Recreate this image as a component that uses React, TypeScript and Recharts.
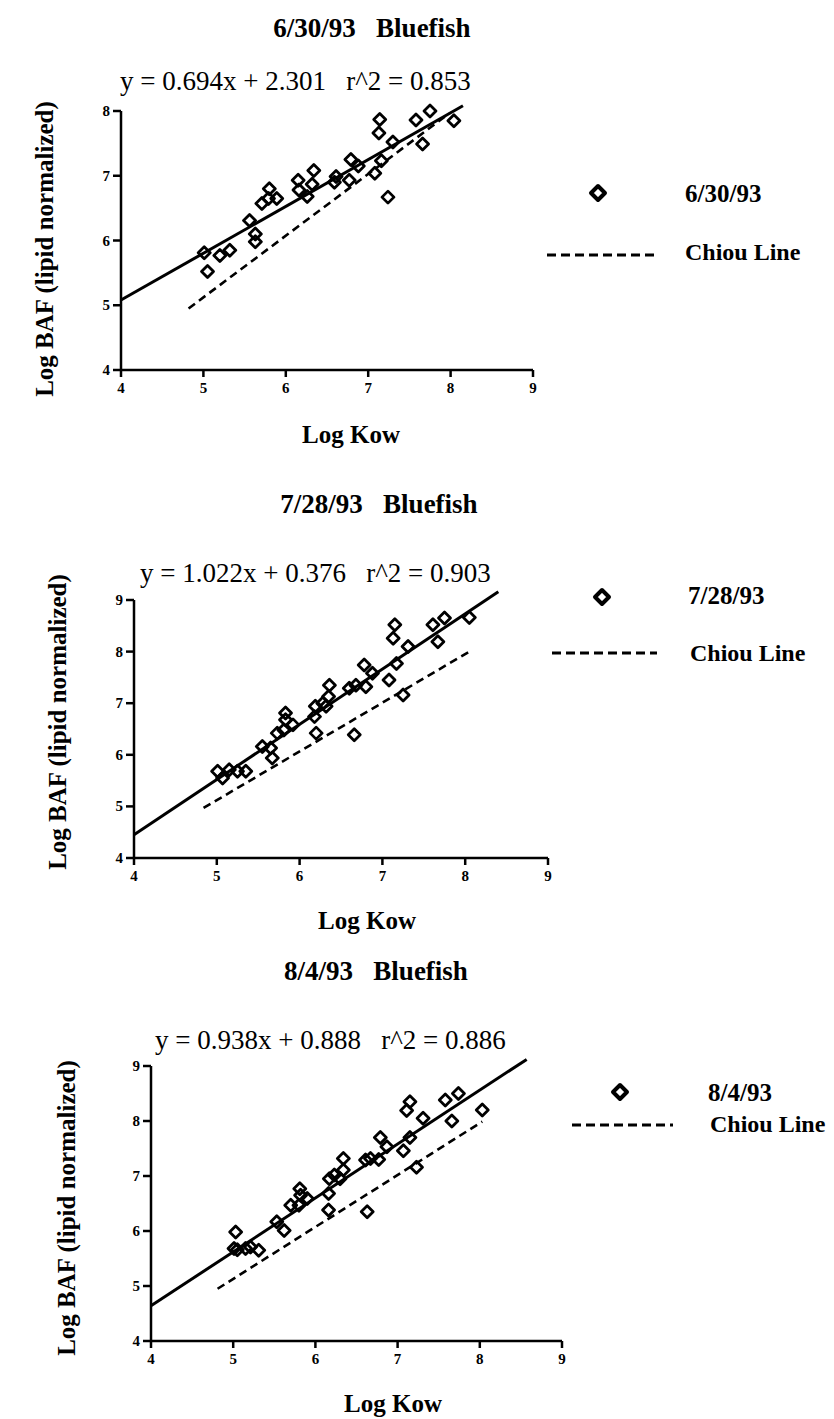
import { ReferenceLine, Scatter, ScatterChart, XAxis, YAxis } from 'recharts';

type Pt = { x: number; y: number };

const kowTicks = [4, 5, 6, 7, 8, 9];
const bafTicksJune = [4, 5, 6, 7, 8];
const bafTicks = [4, 5, 6, 7, 8, 9];

// 6/30/93
const june30Points: Pt[] = [
  { x: 5.01, y: 5.81 }, { x: 5.05, y: 5.52 }, { x: 5.2, y: 5.77 }, { x: 5.32, y: 5.85 },
  { x: 5.56, y: 6.31 }, { x: 5.63, y: 6.1 }, { x: 5.63, y: 5.98 }, { x: 5.71, y: 6.57 },
  { x: 5.79, y: 6.65 }, { x: 5.8, y: 6.8 }, { x: 5.89, y: 6.65 }, { x: 6.15, y: 6.93 },
  { x: 6.16, y: 6.78 }, { x: 6.26, y: 6.68 }, { x: 6.34, y: 7.08 }, { x: 6.32, y: 6.87 },
  { x: 6.61, y: 6.99 }, { x: 6.59, y: 6.9 }, { x: 6.77, y: 6.93 }, { x: 6.79, y: 7.25 },
  { x: 6.88, y: 7.15 }, { x: 7.08, y: 7.04 }, { x: 7.14, y: 7.87 }, { x: 7.13, y: 7.66 },
  { x: 7.16, y: 7.23 }, { x: 7.24, y: 6.67 }, { x: 7.3, y: 7.52 }, { x: 7.58, y: 7.86 },
  { x: 7.66, y: 7.49 }, { x: 7.75, y: 8.0 }, { x: 8.04, y: 7.85 },
];
const june30Fit: Pt[] = [{ x: 4, y: 5.08 }, { x: 8.15, y: 8.08 }];
const june30Chiou: Pt[] = [{ x: 4.82, y: 4.95 }, { x: 7.98, y: 7.96 }];

// 7/28/93
const july28Points: Pt[] = [
  { x: 5.01, y: 5.68 }, { x: 5.07, y: 5.55 }, { x: 5.15, y: 5.71 }, { x: 5.25, y: 5.68 },
  { x: 5.35, y: 5.68 }, { x: 5.55, y: 6.16 }, { x: 5.65, y: 6.13 }, { x: 5.67, y: 5.94 },
  { x: 5.73, y: 6.42 }, { x: 5.81, y: 6.48 }, { x: 5.83, y: 6.81 }, { x: 5.83, y: 6.68 },
  { x: 5.92, y: 6.58 }, { x: 6.18, y: 6.74 }, { x: 6.19, y: 6.94 }, { x: 6.2, y: 6.42 },
  { x: 6.28, y: 7.0 }, { x: 6.32, y: 6.94 }, { x: 6.35, y: 7.13 }, { x: 6.36, y: 7.35 },
  { x: 6.6, y: 7.29 }, { x: 6.66, y: 6.39 }, { x: 6.68, y: 7.35 }, { x: 6.78, y: 7.74 },
  { x: 6.8, y: 7.32 }, { x: 6.88, y: 7.58 }, { x: 7.08, y: 7.45 }, { x: 7.15, y: 8.52 },
  { x: 7.13, y: 8.26 }, { x: 7.17, y: 7.77 }, { x: 7.25, y: 7.16 }, { x: 7.31, y: 8.1 },
  { x: 7.61, y: 8.52 }, { x: 7.67, y: 8.19 }, { x: 7.75, y: 8.65 }, { x: 8.05, y: 8.66 },
];
const july28Fit: Pt[] = [{ x: 4, y: 4.45 }, { x: 8.4, y: 9.16 }];
const july28Chiou: Pt[] = [{ x: 4.84, y: 4.97 }, { x: 8.05, y: 8.0 }];

// 8/4/93
const aug4Points: Pt[] = [
  { x: 5.03, y: 5.98 }, { x: 5.01, y: 5.68 }, { x: 5.05, y: 5.66 }, { x: 5.15, y: 5.68 },
  { x: 5.21, y: 5.71 }, { x: 5.31, y: 5.65 }, { x: 5.53, y: 6.17 }, { x: 5.62, y: 6.01 },
  { x: 5.7, y: 6.47 }, { x: 5.8, y: 6.47 }, { x: 5.81, y: 6.77 }, { x: 5.82, y: 6.65 },
  { x: 5.9, y: 6.59 }, { x: 6.16, y: 6.68 }, { x: 6.16, y: 6.38 }, { x: 6.17, y: 6.95 },
  { x: 6.23, y: 7.02 }, { x: 6.3, y: 6.95 }, { x: 6.34, y: 7.11 }, { x: 6.34, y: 7.32 },
  { x: 6.61, y: 7.29 }, { x: 6.63, y: 6.35 }, { x: 6.67, y: 7.32 }, { x: 6.77, y: 7.3 },
  { x: 6.79, y: 7.7 }, { x: 6.87, y: 7.53 }, { x: 7.07, y: 7.46 }, { x: 7.11, y: 8.19 },
  { x: 7.15, y: 8.35 }, { x: 7.15, y: 7.7 }, { x: 7.23, y: 7.16 }, { x: 7.31, y: 8.05 },
  { x: 7.58, y: 8.38 }, { x: 7.66, y: 8.0 }, { x: 7.74, y: 8.5 }, { x: 8.03, y: 8.2 },
];
const aug4Fit: Pt[] = [{ x: 4, y: 4.64 }, { x: 8.57, y: 9.12 }];
const aug4Chiou: Pt[] = [{ x: 4.81, y: 4.95 }, { x: 8.03, y: 7.99 }];

const titles = ['6/30/93   Bluefish', '7/28/93   Bluefish', '8/4/93   Bluefish'];
const equations = [
  'y = 0.694x + 2.301   r^2 = 0.853',
  'y = 1.022x + 0.376   r^2 = 0.903',
  'y = 0.938x + 0.888   r^2 = 0.886',
];
const seriesNames = ['6/30/93', '7/28/93', '8/4/93'];

const SERIF = "'Liberation Serif', 'Times New Roman', serif";

const layout = [
  {
    chart: { left: 71, top: 101, width: 472, height: 309 },
    title: [372, 28], eq: [120, 81], yLabel: [44, 249], xLabel: [351, 434],
    legend: { marker: [598, 193], text: [685, 193], dash: [547, 655, 255], chiou: [685, 252] },
  },
  {
    chart: { left: 84, top: 590, width: 474, height: 308 },
    title: [379, 504], eq: [140, 573], yLabel: [57, 722], xLabel: [367, 920],
    legend: { marker: [602, 597], text: [688, 595], dash: [552, 657, 653], chiou: [690, 653] },
  },
  {
    chart: { left: 101, top: 1056, width: 471, height: 325 },
    title: [376, 971], eq: [155, 1040], yLabel: [66, 1208], xLabel: [393, 1403],
    legend: { marker: [620, 1092], text: [708, 1092], dash: [572, 673, 1125], chiou: [710, 1124] },
  },
];

const panels = [
  { points: june30Points, fit: june30Fit, chiou: june30Chiou, yTicks: bafTicksJune },
  { points: july28Points, fit: july28Fit, chiou: july28Chiou, yTicks: bafTicks },
  { points: aug4Points, fit: aug4Fit, chiou: aug4Chiou, yTicks: bafTicks },
];

const Diamond = (props: any) => {
  const { cx, cy } = props;
  if (cx == null || cy == null) return null;
  const r = 6;
  return (
    <path
      d={`M${cx},${cy - r}L${cx + r},${cy}L${cx},${cy + r}L${cx - r},${cy}Z`}
      fill="none"
      stroke="#000"
      strokeWidth={2.8}
      strokeLinejoin="round"
    />
  );
};

const XTick = ({ x, y, payload }: any) => (
  <text x={x} y={y + 12} textAnchor="middle" fontFamily={SERIF} fontWeight={700} fontSize={15} fill="#000">
    {payload.value}
  </text>
);

const YTick = ({ x, y, payload }: any) => (
  <text x={x} y={y + 5} textAnchor="end" fontFamily={SERIF} fontWeight={700} fontSize={15} fill="#000">
    {payload.value}
  </text>
);

function Label({ x, y, children, size, bold = true, rotate = false, anchor = 'center' }: any) {
  const tx = anchor === 'center' ? '-50%' : '0';
  return (
    <div
      style={{
        position: 'absolute',
        left: x,
        top: y,
        transform: `translate(${tx}, -50%)${rotate ? ' rotate(-90deg)' : ''}`,
        fontFamily: SERIF,
        fontSize: size,
        fontWeight: bold ? 700 : 400,
        lineHeight: 1,
        whiteSpace: 'pre',
        color: '#000',
      }}
    >
      {children}
    </div>
  );
}

function Panel({ idx }: { idx: number }) {
  const L = layout[idx];
  const P = panels[idx];
  const c = L.chart;
  const yMax = P.yTicks[P.yTicks.length - 1];
  return (
    <>
      <Label x={L.title[0]} y={L.title[1]} size={27}>{titles[idx]}</Label>
      <Label x={L.eq[0]} y={L.eq[1]} size={27} bold={false} anchor="left">{equations[idx]}</Label>
      <Label x={L.yLabel[0]} y={L.yLabel[1]} size={25} rotate>Log BAF (lipid normalized)</Label>
      <Label x={L.xLabel[0]} y={L.xLabel[1]} size={25}>Log Kow</Label>

      <div style={{ position: 'absolute', left: c.left, top: c.top }}>
        <ScatterChart
          width={c.width}
          height={c.height}
          margin={{ top: 10, right: 10, left: 0, bottom: 0 }}
        >
          <XAxis
            type="number"
            dataKey="x"
            domain={[4, 9]}
            ticks={kowTicks}
            height={40}
            tickSize={7}
            tickMargin={4}
            axisLine={{ stroke: '#000', strokeWidth: 2.5 }}
            tickLine={{ stroke: '#000', strokeWidth: 2.5 }}
            tick={<XTick />}
          />
          <YAxis
            type="number"
            dataKey="y"
            domain={[4, yMax]}
            ticks={P.yTicks}
            width={50}
            tickSize={8}
            tickMargin={3}
            axisLine={{ stroke: '#000', strokeWidth: 2.5 }}
            tickLine={{ stroke: '#000', strokeWidth: 2.5 }}
            tick={<YTick />}
          />
          <ReferenceLine
            segment={P.fit}
            ifOverflow="visible"
            stroke="#000"
            strokeWidth={3}
          />
          <ReferenceLine
            segment={P.chiou}
            ifOverflow="visible"
            stroke="#000"
            strokeWidth={2.6}
            strokeDasharray="8 5"
          />
          <Scatter
            data={P.points}
            shape={<Diamond />}
            isAnimationActive={false}
          />
        </ScatterChart>
      </div>

      <svg
        style={{ position: 'absolute', left: L.legend.marker[0] - 10, top: L.legend.marker[1] - 10 }}
        width={20}
        height={20}
      >
        <path d="M10,3L17,10L10,17L3,10Z" fill="none" stroke="#000" strokeWidth={4} strokeLinejoin="round" />
      </svg>
      <Label x={L.legend.text[0]} y={L.legend.text[1]} size={25} anchor="left">{seriesNames[idx]}</Label>
      <svg
        style={{ position: 'absolute', left: L.legend.dash[0], top: L.legend.dash[2] - 3 }}
        width={L.legend.dash[1] - L.legend.dash[0]}
        height={6}
      >
        <line x1={0} y1={3} x2={L.legend.dash[1] - L.legend.dash[0]} y2={3} stroke="#000" strokeWidth={3} strokeDasharray="9 5" />
      </svg>
      <Label x={L.legend.chiou[0]} y={L.legend.chiou[1]} size={24} anchor="left">Chiou Line</Label>
    </>
  );
}

export default function App() {
  return (
    <div style={{ position: 'absolute', left: 0, top: 0, width: 834, height: 1419, background: '#fff' }}>
      <Panel idx={0} />
      <Panel idx={1} />
      <Panel idx={2} />
    </div>
  );
}
